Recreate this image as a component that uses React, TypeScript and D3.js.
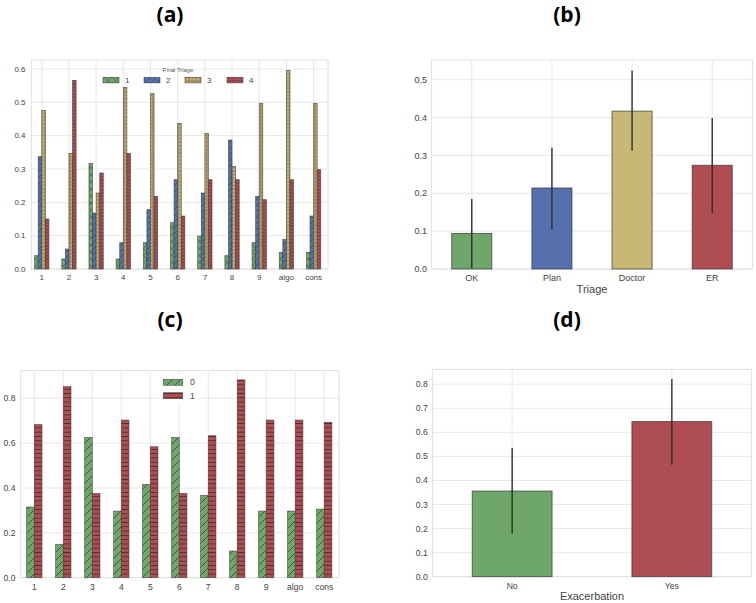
import React from 'react';
import * as d3 from 'd3';

// ---------- data ----------
const catsA = ['1', '2', '3', '4', '5', '6', '7', '8', '9', 'algo', 'cons'];
const seriesA1 = [0.04, 0.03, 0.317, 0.03, 0.079, 0.139, 0.099, 0.04, 0.079, 0.05, 0.05];
const seriesA2 = [0.337, 0.06, 0.168, 0.079, 0.178, 0.268, 0.228, 0.387, 0.218, 0.089, 0.159];
const seriesA3 = [0.476, 0.347, 0.228, 0.545, 0.526, 0.437, 0.407, 0.308, 0.497, 0.596, 0.497];
const seriesA4 = [0.15, 0.566, 0.288, 0.347, 0.218, 0.159, 0.268, 0.268, 0.208, 0.268, 0.298];
const legendA = ['1', '2', '3', '4'];
const legendTitleA = 'Final Triage';
const ticksA = [0, 0.1, 0.2, 0.3, 0.4, 0.5, 0.6];

const catsB = ['OK', 'Plan', 'Doctor', 'ER'];
const valuesB = [0.094, 0.214, 0.417, 0.274];
const errLowB = [0.002, 0.105, 0.312, 0.147];
const errHighB = [0.185, 0.32, 0.524, 0.399];
const ticksB = [0, 0.1, 0.2, 0.3, 0.4, 0.5];
const xLabelB = 'Triage';

const catsC = ['1', '2', '3', '4', '5', '6', '7', '8', '9', 'algo', 'cons'];
const seriesC0 = [0.315, 0.149, 0.625, 0.297, 0.416, 0.625, 0.367, 0.119, 0.297, 0.297, 0.306];
const seriesC1 = [0.683, 0.852, 0.376, 0.703, 0.584, 0.376, 0.633, 0.882, 0.703, 0.703, 0.693];
const legendC = ['0', '1'];
const ticksC = [0, 0.2, 0.4, 0.6, 0.8];

const catsD = ['No', 'Yes'];
const valuesD = [0.356, 0.645];
const errLowD = [0.178, 0.465];
const errHighD = [0.535, 0.822];
const ticksD = [0, 0.1, 0.2, 0.3, 0.4, 0.5, 0.6, 0.7, 0.8];
const xLabelD = 'Exacerbation';

const titles = ['(a)', '(b)', '(c)', '(d)'];

// ---------- style ----------
const GREEN = '#6ea769';
const BLUE = '#5571ad';
const YELLOW = '#c8b876';
const RED = '#ae4e53';
const GRID = '#e2e2e2';
const FRAME = '#d8d8d8';
const TICK = '#444';
const EDGE = '#3b3b3b';
const FONT = 'Liberation Sans, Arial, sans-serif';

type Frame = { x0: number; x1: number; y0: number; y1: number };

function Axes({ frame, x, y, yTicks, cats, fs, yLabelX, xLabelY }: any) {
  return (
    <g>
      <rect x={frame.x0} y={frame.y1} width={frame.x1 - frame.x0} height={frame.y0 - frame.y1} fill="#fff" stroke={FRAME} strokeWidth={0.8} />
      {yTicks.map((t: number) => (
        <line key={'gy' + t} x1={frame.x0} x2={frame.x1} y1={y(t)} y2={y(t)} stroke={GRID} strokeWidth={0.8} />
      ))}
      {cats.map((c: string, i: number) => (
        <line key={'gx' + c} x1={x(i)} x2={x(i)} y1={frame.y1} y2={frame.y0} stroke={GRID} strokeWidth={0.8} />
      ))}
      {yTicks.map((t: number) => (
        <text key={'ty' + t} x={yLabelX} y={y(t)} dy="0.35em" textAnchor="end" fontSize={fs} fill={TICK} fontFamily={FONT}>
          {d3.format('.1f')(t)}
        </text>
      ))}
      {cats.map((c: string, i: number) => (
        <text key={'tx' + c} x={x(i)} y={xLabelY} textAnchor="middle" fontSize={fs} fill={TICK} fontFamily={FONT}>
          {c}
        </text>
      ))}
    </g>
  );
}

function HatchedBar({ x, y, w, h, fill, pattern }: any) {
  return (
    <g>
      <rect x={x} y={y} width={w} height={h} fill={fill} />
      {pattern && <rect x={x} y={y} width={w} height={h} fill={`url(#${pattern})`} />}
      <rect x={x} y={y} width={w} height={h} fill="none" stroke={EDGE} strokeOpacity={0.75} strokeWidth={0.7} />
    </g>
  );
}

function PanelA() {
  const frame: Frame = { x0: 31.7, x1: 328, y0: 269, y1: 60 };
  const x = d3.scaleLinear().domain([-0.37, 10.53]).range([frame.x0, frame.x1]);
  const y = d3.scaleLinear().domain([0, 0.627]).range([frame.y0, frame.y1]);
  const series = [seriesA1, seriesA2, seriesA3, seriesA4];
  const colors = [GREEN, BLUE, YELLOW, RED];
  const pats = ['patX', 'patSlashA', 'patDots', 'patHA'];
  const bw = 0.132;
  const legX = [103, 144, 185, 227];
  return (
    <g>
      <Axes frame={frame} x={x} y={y} yTicks={ticksA} cats={catsA} fs={8} yLabelX={25.5} xLabelY={279.5} />
      {catsA.map((c, i) =>
        series.map((s, k) => {
          const left = x(i - 2 * bw + k * bw);
          const right = x(i - 2 * bw + (k + 1) * bw);
          return (
            <HatchedBar key={c + k} x={left} y={y(s[i])} w={right - left} h={y(0) - y(s[i])} fill={colors[k]} pattern={pats[k]} />
          );
        })
      )}
      <text x={178} y={72} textAnchor="middle" fontSize={5.8} fill="#555" fontFamily={FONT}>{legendTitleA}</text>
      {legendA.map((l, k) => (
        <g key={'la' + l}>
          <HatchedBar x={legX[k]} y={77.3} w={16} h={5.6} fill={colors[k]} pattern={pats[k]} />
          <text x={legX[k] + 22} y={80.1} dy="0.35em" fontSize={8} fill={TICK} fontFamily={FONT}>{l}</text>
        </g>
      ))}
    </g>
  );
}

function ErrBars({ x, y, cats, vals, lo, hi, bw, colors }: any) {
  return (
    <g>
      {cats.map((c: string, i: number) => {
        const left = x(i - bw / 2);
        const right = x(i + bw / 2);
        return (
          <g key={c}>
            <rect x={left} y={y(vals[i])} width={right - left} height={y(0) - y(vals[i])} fill={colors[i]} stroke={EDGE} strokeOpacity={0.8} strokeWidth={0.9} />
            <line x1={x(i)} x2={x(i)} y1={y(lo[i])} y2={y(hi[i])} stroke="#2e2e2e" strokeWidth={1.4} />
          </g>
        );
      })}
    </g>
  );
}

function PanelB() {
  const frame: Frame = { x0: 431.7, x1: 752.3, y0: 269, y1: 60 };
  const x = d3.scaleLinear().domain([-0.5, 3.5]).range([frame.x0, frame.x1]);
  const y = d3.scaleLinear().domain([0, 0.552]).range([frame.y0, frame.y1]);
  return (
    <g>
      <Axes frame={frame} x={x} y={y} yTicks={ticksB} cats={catsB} fs={9} yLabelX={427} xLabelY={281} />
      <ErrBars x={x} y={y} cats={catsB} vals={valuesB} lo={errLowB} hi={errHighB} bw={0.5} colors={[GREEN, BLUE, YELLOW, RED]} />
      <text x={(frame.x0 + frame.x1) / 2} y={293} textAnchor="middle" fontSize={11} fill={TICK} fontFamily={FONT}>{xLabelB}</text>
    </g>
  );
}

function PanelC() {
  const frame: Frame = { x0: 20.7, x1: 339, y0: 577.7, y1: 370.7 };
  const x = d3.scaleLinear().domain([-0.47, 10.51]).range([frame.x0, frame.x1]);
  const y = d3.scaleLinear().domain([0, 0.923]).range([frame.y0, frame.y1]);
  const series = [seriesC0, seriesC1];
  const colors = [GREEN, RED];
  const pats = ['patSlashC', 'patHC'];
  const bw = 0.265;
  return (
    <g>
      <Axes frame={frame} x={x} y={y} yTicks={ticksC} cats={catsC} fs={8.6} yLabelX={15.5} xLabelY={590} />
      {catsC.map((c, i) =>
        series.map((s, k) => {
          const left = x(i - bw + k * bw);
          const right = x(i - bw + (k + 1) * bw);
          return (
            <HatchedBar key={c + k} x={left} y={y(s[i])} w={right - left} h={y(0) - y(s[i])} fill={colors[k]} pattern={pats[k]} />
          );
        })
      )}
      <rect x={159} y={375} width={42} height={29} fill="#fff" fillOpacity={0.85} />
      {legendC.map((l, k) => (
        <g key={'lc' + l}>
          <HatchedBar x={163.3} y={379.3 + k * 13.4} w={19.4} h={6} fill={colors[k]} pattern={pats[k]} />
          <text x={190} y={382.3 + k * 13.4} dy="0.35em" fontSize={8.6} fill={TICK} fontFamily={FONT}>{l}</text>
        </g>
      ))}
    </g>
  );
}

function PanelD() {
  const frame: Frame = { x0: 432.3, x1: 751.7, y0: 576.7, y1: 369.3 };
  const x = d3.scaleLinear().domain([-0.5, 1.5]).range([frame.x0, frame.x1]);
  const y = d3.scaleLinear().domain([0, 0.862]).range([frame.y0, frame.y1]);
  return (
    <g>
      <Axes frame={frame} x={x} y={y} yTicks={ticksD} cats={catsD} fs={8.6} yLabelX={427.7} xLabelY={588.5} />
      <ErrBars x={x} y={y} cats={catsD} vals={valuesD} lo={errLowD} hi={errHighD} bw={0.5} colors={[GREEN, RED]} />
      <text x={(frame.x0 + frame.x1) / 2} y={600} textAnchor="middle" fontSize={11} fill={TICK} fontFamily={FONT}>{xLabelD}</text>
    </g>
  );
}

export default function App() {
  const hs = '#1f1f1f';
  const titlePos = [
    [170, 22],
    [567, 22],
    [170, 327],
    [567, 327],
  ];
  return (
    <svg width={756} height={603} style={{ position: 'absolute', left: 0, top: 0, background: '#fff' }}>
      <defs>
        <pattern id="patX" patternUnits="userSpaceOnUse" width={7} height={7}>
          <path d="M0,0 L7,7 M7,0 L0,7" stroke={hs} strokeWidth={0.55} strokeOpacity={0.65} />
        </pattern>
        <pattern id="patSlashA" patternUnits="userSpaceOnUse" width={6} height={6}>
          <path d="M-1,1 L1,-1 M0,6 L6,0 M5,7 L7,5" stroke={hs} strokeWidth={0.55} strokeOpacity={0.7} />
        </pattern>
        <pattern id="patDots" patternUnits="userSpaceOnUse" width={3.6} height={3.6}>
          <circle cx={1.8} cy={1.8} r={1.15} fill="none" stroke={hs} strokeWidth={0.5} strokeOpacity={0.7} />
        </pattern>
        <pattern id="patHA" patternUnits="userSpaceOnUse" width={6} height={3.3}>
          <path d="M0,1.65 L6,1.65" stroke={hs} strokeWidth={0.6} strokeOpacity={0.75} />
        </pattern>
        <pattern id="patSlashC" patternUnits="userSpaceOnUse" width={8} height={8}>
          <path d="M-1,1 L1,-1 M0,8 L8,0 M7,9 L9,7" stroke={hs} strokeWidth={0.7} strokeOpacity={0.8} />
        </pattern>
        <pattern id="patHC" patternUnits="userSpaceOnUse" width={8} height={4.3}>
          <path d="M0,2.15 L8,2.15" stroke={hs} strokeWidth={0.8} strokeOpacity={0.8} />
        </pattern>
      </defs>
      <rect width={756} height={603} fill="#fff" />
      <PanelA />
      <PanelB />
      <PanelC />
      <PanelD />
      {titles.map((t, i) => (
        <text key={t} x={titlePos[i][0]} y={titlePos[i][1]} textAnchor="middle" fontSize={21} fontWeight="bold" fill="#000" fontFamily="Open Sans, Liberation Sans, sans-serif">
          {t}
        </text>
      ))}
    </svg>
  );
}
